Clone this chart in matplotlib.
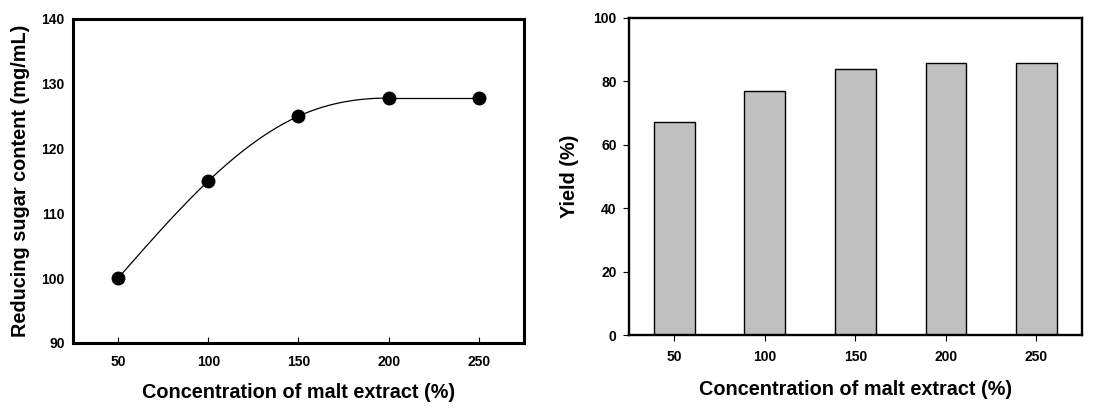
import numpy as np
import matplotlib
matplotlib.use("Agg")
import matplotlib.pyplot as plt

# ---- data ----
concentration = [50, 100, 150, 200, 250]
reducing_sugar = [100.0, 115.0, 125.0, 127.8, 127.8]
yield_pct = [67.0, 77.0, 83.8, 85.7, 85.7]
xticks = [50, 100, 150, 200, 250]
sugar_yticks = [90, 100, 110, 120, 130, 140]
yield_yticks = [0, 20, 40, 60, 80, 100]

plt.rcParams['font.family'] = ['Liberation Sans', 'DejaVu Sans']
plt.rcParams['font.weight'] = 'bold'


def cubic_spline(x, y, xs, end_slope=None):
    """Cubic spline: natural at the start, clamped (given slope) at the end."""
    x = np.asarray(x, float); y = np.asarray(y, float)
    n = len(x)
    h = np.diff(x)
    A = np.zeros((n, n)); b = np.zeros(n)
    A[0, 0] = 1.0  # natural start: M0 = 0
    for i in range(1, n - 1):
        A[i, i - 1] = h[i - 1]
        A[i, i] = 2 * (h[i - 1] + h[i])
        A[i, i + 1] = h[i]
        b[i] = 6 * ((y[i + 1] - y[i]) / h[i] - (y[i] - y[i - 1]) / h[i - 1])
    if end_slope is None:
        A[-1, -1] = 1.0
    else:
        A[-1, -2] = h[-1]
        A[-1, -1] = 2 * h[-1]
        b[-1] = 6 * (end_slope - (y[-1] - y[-2]) / h[-1])
    M = np.linalg.solve(A, b)
    out = np.empty(len(xs))
    for j, xv in enumerate(xs):
        k = int(np.clip(np.searchsorted(x, xv, side='right') - 1, 0, n - 2))
        t1 = x[k + 1] - xv; t0 = xv - x[k]
        out[j] = (M[k] * t1**3 + M[k + 1] * t0**3) / (6 * h[k]) \
            + (y[k] / h[k] - M[k] * h[k] / 6) * t1 \
            + (y[k + 1] / h[k] - M[k + 1] * h[k] / 6) * t0
    return out


fig = plt.figure(figsize=(11.01, 4.11), dpi=100)

# ---- left panel ----
ax1 = fig.add_axes([0.0663, 0.1655, 0.4096, 0.7883])
xs_a = np.linspace(concentration[0], concentration[3], 300)
ax1.plot(xs_a, cubic_spline(concentration[:4], reducing_sugar[:4], xs_a, end_slope=0.0),
         color='black', lw=0.9)
ax1.plot(concentration[3:], reducing_sugar[3:], color='black', lw=0.9)
ax1.plot(concentration, reducing_sugar, 'o', color='black', ms=9)
ax1.set_xlim(25, 275)
ax1.set_ylim(90, 140)
ax1.set_xticks(xticks)
ax1.set_yticks(sugar_yticks)
ax1.tick_params(axis='x', direction='in', length=4, width=0.8, pad=9, labelsize=10)
ax1.tick_params(axis='y', length=0, pad=6, labelsize=10)
for s in ax1.spines.values():
    s.set_linewidth(2.2)
ax1.set_xlabel('Concentration of malt extract (%)', fontsize=14.3, fontweight='bold', labelpad=10)
ax1.set_ylabel('Reducing sugar content (mg/mL)', fontsize=14.3, fontweight='bold', labelpad=8)

# ---- right panel ----
ax2 = fig.add_axes([0.5713, 0.1849, 0.4112, 0.772])
ax2.bar(concentration, yield_pct, width=22.5, color='#c0c0c0', edgecolor='black', linewidth=1.0)
ax2.set_xlim(25, 275)
ax2.set_ylim(0, 100)
ax2.set_xticks(xticks)
ax2.set_yticks(yield_yticks)
ax2.tick_params(axis='x', direction='out', length=4, width=0.8, pad=7, labelsize=10)
ax2.tick_params(axis='y', direction='out', length=4, width=0.8, pad=5, labelsize=10)
for s in ax2.spines.values():
    s.set_linewidth(1.7)
ax2.set_xlabel('Concentration of malt extract (%)', fontsize=14.3, fontweight='bold', labelpad=11)
ax2.set_ylabel('Yield (%)', fontsize=14.3, fontweight='bold', labelpad=10)

fig.savefig('out.png', dpi=100)
